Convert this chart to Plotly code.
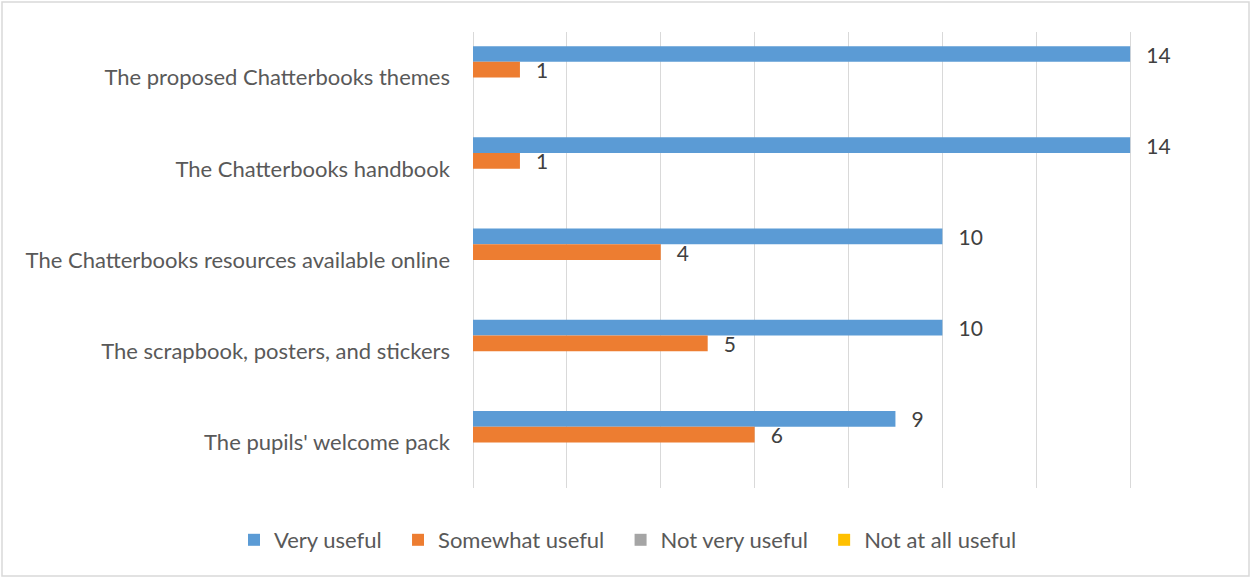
import plotly.graph_objects as go

categories = [
    "The proposed Chatterbooks themes",
    "The Chatterbooks handbook",
    "The Chatterbooks resources available online",
    "The scrapbook, posters, and stickers",
    "The pupils' welcome pack",
]
very_useful = [14, 14, 10, 10, 9]
somewhat_useful = [1, 1, 4, 5, 6]
not_very_useful = [0, 0, 0, 0, 0]
not_at_all_useful = [0, 0, 0, 0, 0]
series_names = ["Very useful", "Somewhat useful", "Not very useful", "Not at all useful"]
series_values = [very_useful, somewhat_useful, not_very_useful, not_at_all_useful]
series_colors = ["#5B9BD5", "#ED7D31", "#A5A5A5", "#FFC000"]

W, H = 1251, 578
ML, MR, MT, MB = 473, 27, 32, 90
FONT = "Lato, Carlito, Calibri, sans-serif"
PAD = "\u00a0\u00a0"  # spacing between legend entries

pw = W - ML - MR
ph = H - MT - MB

fig = go.Figure()
for name, vals, color in zip(series_names, series_values, series_colors):
    fig.add_trace(go.Bar(
        name=name + PAD, y=categories, x=vals, orientation="h",
        marker=dict(color=color, line=dict(width=0)),
        text=["\u2002\u2009" + str(v) if v else "" for v in vals],
        textposition="outside", cliponaxis=False, constraintext="none",
        textfont=dict(family=FONT, size=21, color="#404040"),
    ))

fig.add_shape(type="rect", xref="paper", yref="paper",
              x0=(2 - ML) / pw, x1=(W - 2 - ML) / pw,
              y0=-(H - 2 - MT - ph) / ph, y1=1 + (MT - 2) / ph,
              line=dict(color="#D9D9D9", width=1.5), layer="below")

fig.update_layout(
    width=W, height=H,
    margin=dict(l=ML, r=MR, t=MT, b=MB),
    barmode="group", bargap=0.31, bargroupgap=0,
    plot_bgcolor="white", paper_bgcolor="white",
    font=dict(family=FONT, size=22, color="#595959"),
    showlegend=True,
    legend=dict(orientation="h", xref="paper", yref="paper",
                x=(234 - ML) / pw, xanchor="left",
                y=-(540 - MT - ph) / ph, yanchor="middle",
                font=dict(family=FONT, size=22, color="#595959"),
                bgcolor="rgba(0,0,0,0)",
                traceorder="normal"),
    xaxis=dict(range=[0, 16], dtick=2, showticklabels=False,
               showgrid=True, gridcolor="#D9D9D9", gridwidth=1,
               zeroline=True, zerolinecolor="#D9D9D9", zerolinewidth=1,
               showline=False, fixedrange=True),
    yaxis=dict(autorange="reversed", showgrid=False, zeroline=False,
               showline=False, ticks="", ticklabelstandoff=22,
               tickfont=dict(family=FONT, size=22, color="#595959")),
)

fig.write_html("out.html", config={"displayModeBar": False},
               post_script="document.body.style.margin='0';")
